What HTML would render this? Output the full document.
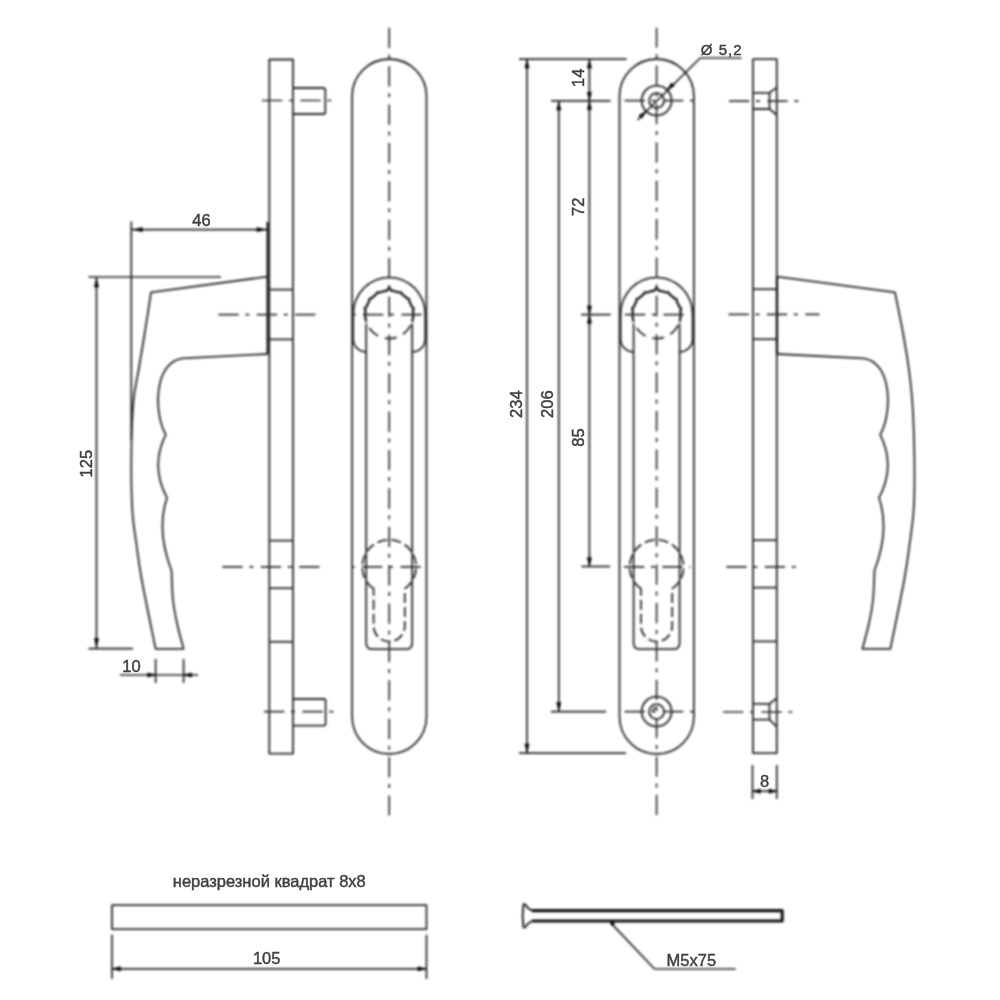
<!DOCTYPE html>
<html><head><meta charset="utf-8"><style>
html,body{margin:0;padding:0;background:#fff;}
svg{display:block;position:absolute;left:0;top:0;}
#L{filter:blur(0.8px);}
#T{filter:blur(0px);}
.o{fill:none;stroke:#282828;stroke-width:1.8;stroke-linejoin:round;}
.d{fill:none;stroke:#202020;stroke-width:1.7;}
.c{fill:none;stroke:#2e2e2e;stroke-width:1.7;stroke-dasharray:20.3 6.7 4 7.38;}
.hid{stroke-dasharray:12 7;}
.hid2{stroke-dasharray:10 4;}
.ar{fill:#000;stroke:#000;stroke-width:0.6px;stroke-linejoin:round;}
text{font-family:"Liberation Sans",sans-serif;fill:#404040;stroke:#404040;stroke-width:0.45px;}
</style></head><body>
<svg id="L" width="1000" height="1000" viewBox="0 0 1000 1000">
<rect x="269.3" y="59.5" width="23.69999999999999" height="694.1" class="o"/>
<line x1="269.3" y1="289.6" x2="293.0" y2="289.6" class="o" />
<line x1="269.3" y1="339.4" x2="293.0" y2="339.4" class="o" />
<line x1="269.3" y1="540.6" x2="293.0" y2="540.6" class="o" />
<line x1="269.3" y1="588.2" x2="293.0" y2="588.2" class="o" />
<line x1="269.3" y1="641.8" x2="293.0" y2="641.8" class="o" />
<path d="M293.0 88 H323.5 Q325.3 88 325.3 90 V112 Q325.3 114 323.5 114 H293.0" class="o"/>
<path d="M293.0 699 H323.8 Q325.6 699 325.6 701 V723.6 Q325.6 725.6 323.8 725.6 H293.0" class="o"/>
<path d="M267.6 276.6 L151 292.4  C149.93 299.50 146.67 321.10 144.60 334.00 C142.53 346.90 140.43 359.00 138.60 370.00 C136.77 381.00 134.80 386.67 133.60 400.00 C132.40 413.33 131.63 432.00 131.40 450.00 C131.17 468.00 131.37 492.33 132.20 508.00 C133.03 523.67 134.80 532.00 136.40 544.00 C138.00 556.00 138.60 562.53 141.80 580.00 C145.00 597.47 153.30 637.33 155.60 648.80 L183.6 648.8
     C182.53 644.67 178.97 632.13 177.20 624.00 C175.43 615.87 173.95 608.92 173.00 600.00 C172.05 591.08 171.75 575.42 171.50 570.50 Q156 530 167 497.8 Q150 466 165.8 434.6 C154 415 153 362 182.6 358.4 L267.6 354" class="o"/>
<line x1="267.6" y1="222" x2="267.6" y2="354" class="o" style="stroke-width:2.2px;stroke:#151515"/>
<line x1="262" y1="100.5" x2="334" y2="100.5" class="c" stroke-dashoffset="0.00"/>
<line x1="218.4" y1="314.6" x2="316" y2="314.6" class="c" stroke-dashoffset="0.00"/>
<line x1="222.4" y1="566.9" x2="320" y2="566.9" class="c" stroke-dashoffset="0.00"/>
<line x1="264" y1="711.6" x2="334" y2="711.6" class="c" stroke-dashoffset="0.00"/>
<line x1="131.3" y1="221.5" x2="131.3" y2="440" class="d" />
<line x1="131.3" y1="229.6" x2="267.6" y2="229.6" class="d" />
<path d="M134.20 229.60 L142.20 227.50 L142.20 231.70Z" class="ar"/>
<path d="M265.00 229.60 L257.00 231.70 L257.00 227.50Z" class="ar"/>
<line x1="88.4" y1="277" x2="221" y2="277" class="d" />
<line x1="88.4" y1="648.6" x2="133" y2="648.6" class="d" />
<line x1="96.5" y1="277" x2="96.5" y2="648.6" class="d" />
<path d="M96.50 279.00 L98.60 287.00 L94.40 287.00Z" class="ar"/>
<path d="M96.50 646.60 L94.40 638.60 L98.60 638.60Z" class="ar"/>
<line x1="155.6" y1="659" x2="155.6" y2="683" class="d" />
<line x1="183.6" y1="659" x2="183.6" y2="683" class="d" />
<line x1="120" y1="675" x2="198" y2="675" class="d" />
<path d="M155.60 675.00 L147.60 677.10 L147.60 672.90Z" class="ar"/>
<path d="M183.60 675.00 L191.60 672.90 L191.60 677.10Z" class="ar"/>
<path d="M352.09999999999997 96.20000000000002 A37.20000000000002 37.20000000000002 0 0 1 426.5 96.20000000000002 V716.8 A37.20000000000002 37.20000000000002 0 0 1 352.09999999999997 716.8 Z" class="o"/>
<path d="M366.2 352 A13 13 0 0 1 353.2 339 V314.6 A36.0 37.3 0 0 1 425.2 314.6 V339 A13 13 0 0 1 412.2 352" class="o"/>
<path d="M366.2 323.5 V643 Q366.2 649.2 372.4 649.2 H406.0 Q412.2 649.2 412.2 643 V323.5" class="o"/>
<path d="M412.03 322.02 L412.25 321.30 L412.45 320.57 L412.62 319.84 L412.77 319.10 L412.90 318.35 L413.01 317.61 L413.09 316.86 L413.15 316.11 L413.19 315.35 L413.20 314.60 L413.19 313.85 L413.15 313.09 L413.09 312.34 L413.01 311.59 L412.90 310.85 L413.23 310.02 L413.54 309.16 L413.60 308.33 L412.95 307.70 L412.27 307.10 L411.78 306.47 L411.51 305.77 L411.23 305.07 L410.92 304.38 L410.58 303.70 L410.23 303.04 L409.86 302.38 L409.46 301.74 L409.31 300.93 L409.25 300.03 L409.15 299.13 L408.37 298.74 L407.51 298.45 L406.70 298.17 L406.17 297.63 L405.63 297.10 L405.07 296.60 L404.50 296.11 L403.91 295.64 L403.31 295.18 L402.69 294.75 L402.14 294.20 L401.73 293.41 L401.29 292.61 L400.57 292.29 L399.66 292.37 L398.77 292.48 L398.03 292.29 L397.33 292.02 L396.62 291.77 L395.90 291.55 L395.17 291.35 L394.44 291.18 L393.70 291.03 L392.95 290.90 L392.21 290.79 L391.46 290.71 L390.76 289.75 L390.02 288.56 L389.20 287.40 L388.38 288.56 L387.64 289.75 L386.94 290.71 L386.19 290.79 L385.45 290.90 L384.70 291.03 L383.96 291.18 L383.23 291.35 L382.50 291.55 L381.78 291.77 L381.07 292.02 L380.37 292.29 L379.63 292.48 L378.74 292.37 L377.83 292.29 L377.11 292.61 L376.67 293.41 L376.26 294.20 L375.71 294.75 L375.09 295.18 L374.49 295.64 L373.90 296.11 L373.33 296.60 L372.77 297.10 L372.23 297.63 L371.70 298.17 L370.89 298.45 L370.03 298.74 L369.25 299.13 L369.15 300.03 L369.09 300.93 L368.94 301.74 L368.54 302.38 L368.17 303.04 L367.82 303.70 L367.48 304.38 L367.17 305.07 L366.89 305.77 L366.62 306.47 L366.13 307.10 L365.45 307.70 L364.80 308.33 L364.86 309.16 L365.17 310.02 L365.50 310.85 L365.39 311.59 L365.31 312.34 L365.25 313.09 L365.21 313.85 L365.20 314.60 L365.21 315.35 L365.25 316.11 L365.31 316.86 L365.39 317.61 L365.50 318.35 L365.63 319.10 L365.78 319.84 L365.95 320.57 L366.15 321.30 L366.37 322.02" class="o" style="stroke-width:2.3px;stroke:#1a1a1a"/>
<path d="M412.03 322.02 A24.0 24.0 0 0 1 366.37 322.02" class="o hid" stroke-dashoffset="15.5"/>
<path d="M373.59999999999997 588.84 A27 27 0 1 1 404.8 588.84 V626 A15.6 15.6 0 0 1 373.59999999999997 626 Z" class="o hid2"/>
<line x1="389.2" y1="27.8" x2="389.2" y2="815.4" class="c" stroke-dashoffset="0.00"/>
<line x1="352.59999999999997" y1="314.6" x2="423.0" y2="314.6" class="c" stroke-dashoffset="27.98"/>
<line x1="352.59999999999997" y1="566.8" x2="423.0" y2="566.8" class="c" stroke-dashoffset="28.98"/>
<path d="M619.5 96.19999999999999 A37.19999999999999 37.19999999999999 0 0 1 693.9 96.19999999999999 V716.8 A37.19999999999999 37.19999999999999 0 0 1 619.5 716.8 Z" class="o"/>
<path d="M633.6 352 A13 13 0 0 1 620.6 339 V314.6 A36.0 37.3 0 0 1 692.6 314.6 V339 A13 13 0 0 1 679.6 352" class="o"/>
<path d="M633.6 323.5 V643 Q633.6 649.2 639.8000000000001 649.2 H673.4 Q679.6 649.2 679.6 643 V323.5" class="o"/>
<path d="M679.43 322.02 L679.65 321.30 L679.85 320.57 L680.02 319.84 L680.17 319.10 L680.30 318.35 L680.41 317.61 L680.49 316.86 L680.55 316.11 L680.59 315.35 L680.60 314.60 L680.59 313.85 L680.55 313.09 L680.49 312.34 L680.41 311.59 L680.30 310.85 L680.63 310.02 L680.94 309.16 L681.00 308.33 L680.35 307.70 L679.67 307.10 L679.18 306.47 L678.91 305.77 L678.63 305.07 L678.32 304.38 L677.98 303.70 L677.63 303.04 L677.26 302.38 L676.86 301.74 L676.71 300.93 L676.65 300.03 L676.55 299.13 L675.77 298.74 L674.91 298.45 L674.10 298.17 L673.57 297.63 L673.03 297.10 L672.47 296.60 L671.90 296.11 L671.31 295.64 L670.71 295.18 L670.09 294.75 L669.54 294.20 L669.13 293.41 L668.69 292.61 L667.97 292.29 L667.06 292.37 L666.17 292.48 L665.43 292.29 L664.73 292.02 L664.02 291.77 L663.30 291.55 L662.57 291.35 L661.84 291.18 L661.10 291.03 L660.35 290.90 L659.61 290.79 L658.86 290.71 L658.16 289.75 L657.42 288.56 L656.60 287.40 L655.78 288.56 L655.04 289.75 L654.34 290.71 L653.59 290.79 L652.85 290.90 L652.10 291.03 L651.36 291.18 L650.63 291.35 L649.90 291.55 L649.18 291.77 L648.47 292.02 L647.77 292.29 L647.03 292.48 L646.14 292.37 L645.23 292.29 L644.51 292.61 L644.07 293.41 L643.66 294.20 L643.11 294.75 L642.49 295.18 L641.89 295.64 L641.30 296.11 L640.73 296.60 L640.17 297.10 L639.63 297.63 L639.10 298.17 L638.29 298.45 L637.43 298.74 L636.65 299.13 L636.55 300.03 L636.49 300.93 L636.34 301.74 L635.94 302.38 L635.57 303.04 L635.22 303.70 L634.88 304.38 L634.57 305.07 L634.29 305.77 L634.02 306.47 L633.53 307.10 L632.85 307.70 L632.20 308.33 L632.26 309.16 L632.57 310.02 L632.90 310.85 L632.79 311.59 L632.71 312.34 L632.65 313.09 L632.61 313.85 L632.60 314.60 L632.61 315.35 L632.65 316.11 L632.71 316.86 L632.79 317.61 L632.90 318.35 L633.03 319.10 L633.18 319.84 L633.35 320.57 L633.55 321.30 L633.77 322.02" class="o" style="stroke-width:2.3px;stroke:#1a1a1a"/>
<path d="M679.43 322.02 A24.0 24.0 0 0 1 633.77 322.02" class="o hid" stroke-dashoffset="15.5"/>
<path d="M641.0 588.84 A27 27 0 1 1 672.2 588.84 V626 A15.6 15.6 0 0 1 641.0 626 Z" class="o hid2"/>
<line x1="656.6" y1="27.8" x2="656.6" y2="815.4" class="c" stroke-dashoffset="0.60"/>
<line x1="620.0" y1="314.6" x2="690.4" y2="314.6" class="c" stroke-dashoffset="33.38"/>
<line x1="620.0" y1="566.8" x2="690.4" y2="566.8" class="c" stroke-dashoffset="34.38"/>
<circle cx="656.6" cy="100.6" r="15" class="o"/>
<circle cx="656.6" cy="100.6" r="7.5" class="o"/>
<line x1="624.5" y1="100.6" x2="693.9" y2="100.6" class="c" stroke-dashoffset="38.28"/>
<circle cx="656.6" cy="711.6" r="15" class="o"/>
<circle cx="656.6" cy="711.6" r="7.5" class="o"/>
<line x1="624.5" y1="711.6" x2="693.9" y2="711.6" class="c" stroke-dashoffset="38.28"/>
<path d="M652.6 711.6 A4.2 4.2 0 0 1 656.6 707.4" class="o" style="stroke-width:1.6px"/>
<line x1="637.6" y1="120" x2="700.2" y2="58" class="d" />
<line x1="700.2" y1="58" x2="741.6" y2="58" class="d" />
<path d="M645.99 111.21 L641.82 118.35 L638.85 115.38Z" class="ar"/>
<path d="M667.21 89.99 L671.38 82.85 L674.35 85.82Z" class="ar"/>
<line x1="519" y1="59.2" x2="626.7" y2="59.2" class="d" />
<line x1="519" y1="753.2" x2="626" y2="753.2" class="d" />
<line x1="527" y1="59.2" x2="527" y2="753.2" class="d" />
<path d="M527.00 60.00 L529.10 68.00 L524.90 68.00Z" class="ar"/>
<path d="M527.00 752.00 L524.90 744.00 L529.10 744.00Z" class="ar"/>
<line x1="551" y1="100.9" x2="610.6" y2="100.9" class="d" />
<line x1="551" y1="711.6" x2="606" y2="711.6" class="d" />
<line x1="558.8" y1="100.9" x2="558.8" y2="711.6" class="d" />
<path d="M558.80 102.00 L560.90 110.00 L556.70 110.00Z" class="ar"/>
<path d="M558.80 710.50 L556.70 702.50 L560.90 702.50Z" class="ar"/>
<line x1="589.4" y1="59.2" x2="589.4" y2="566.5" class="d" />
<line x1="581" y1="314.6" x2="610.7" y2="314.6" class="d" />
<line x1="581.4" y1="566.5" x2="610.2" y2="566.5" class="d" />
<path d="M589.40 60.00 L591.50 68.00 L587.30 68.00Z" class="ar"/>
<path d="M589.40 100.20 L587.30 92.20 L591.50 92.20Z" class="ar"/>
<path d="M589.40 101.60 L591.50 109.60 L587.30 109.60Z" class="ar"/>
<path d="M589.40 314.00 L587.30 306.00 L591.50 306.00Z" class="ar"/>
<path d="M589.40 315.20 L591.50 323.20 L587.30 323.20Z" class="ar"/>
<path d="M589.40 565.80 L587.30 557.80 L591.50 557.80Z" class="ar"/>
<rect x="753.0" y="59.2" width="23.799999999999955" height="694.0" class="o"/>
<line x1="753.0" y1="289.2" x2="776.8" y2="289.2" class="o" />
<line x1="753.0" y1="339.2" x2="776.8" y2="339.2" class="o" />
<line x1="753.0" y1="540.2" x2="776.8" y2="540.2" class="o" />
<line x1="753.0" y1="587.6" x2="776.8" y2="587.6" class="o" />
<line x1="753.0" y1="641.4" x2="776.8" y2="641.4" class="o" />
<path d="M753.0 92.8 H769.5 V109.0 H753.0 M769.5 92.8 L776.8 87.4 M769.5 109.0 L776.8 115.0" class="o"/>
<path d="M753.0 703.8 H769.5 V719.6 H753.0 M769.5 703.8 L776.8 698.2 M769.5 719.6 L776.8 726.8" class="o"/>
<path d="M269.0 276.6 L151 292.4  C149.63 299.50 145.13 321.10 142.80 334.00 C140.47 346.90 138.57 358.00 137.00 370.00 C135.43 382.00 134.30 391.00 133.40 406.00 C132.50 421.00 131.80 443.00 131.60 460.00 C131.40 477.00 131.40 494.00 132.20 508.00 C133.00 522.00 134.80 532.00 136.40 544.00 C138.00 556.00 138.60 562.53 141.80 580.00 C145.00 597.47 153.30 637.33 155.60 648.80 L183.6 648.8
     C182.53 644.67 178.97 632.13 177.20 624.00 C175.43 615.87 173.95 608.92 173.00 600.00 C172.05 591.08 171.75 575.42 171.50 570.50 Q156 530 167 497.8 Q150 466 165.8 434.6 C154 415 153 362 182.6 358.4 L269.0 354" class="o" transform="translate(1046 0) scale(-1 1)"/>
<line x1="777.0" y1="277" x2="777.0" y2="353.6" class="o" style="stroke-width:2.3px;stroke:#111"/>
<line x1="729" y1="101.2" x2="800" y2="101.2" class="c" stroke-dashoffset="0.00"/>
<line x1="728.5" y1="314.4" x2="819.5" y2="314.4" class="c" stroke-dashoffset="0.00"/>
<line x1="726.4" y1="566.8" x2="797.5" y2="566.8" class="c" stroke-dashoffset="0.00"/>
<line x1="723" y1="712" x2="793" y2="712" class="c" stroke-dashoffset="0.00"/>
<line x1="752.5" y1="765" x2="752.5" y2="799" class="d" />
<line x1="776.8" y1="765" x2="776.8" y2="799" class="d" />
<line x1="752.5" y1="791.2" x2="776.8" y2="791.2" class="d" />
<path d="M752.80 791.20 L760.30 789.10 L760.30 793.30Z" class="ar"/>
<path d="M776.50 791.20 L769.00 793.30 L769.00 789.10Z" class="ar"/>
<rect x="112" y="905.2" width="314.5" height="23.9" class="o"/>
<line x1="112" y1="934.8" x2="112" y2="979" class="d" />
<line x1="426.5" y1="934.8" x2="426.5" y2="979" class="d" />
<line x1="112" y1="968.8" x2="426.5" y2="968.8" class="d" />
<path d="M112.50 968.80 L120.50 966.70 L120.50 970.90Z" class="ar"/>
<path d="M426.00 968.80 L418.00 970.90 L418.00 966.70Z" class="ar"/>
<path d="M532 910.6 Q527.5 908.5 525.8 905.2 Q524.6 903.2 523.4 904.6 Q521.9 915.8 523.4 927 Q524.6 928.4 525.8 926.4 Q527.5 923.2 532 921" class="o" style="stroke-width:1.9px;stroke:#1a1a1a"/>
<path d="M532 910.6 H782.2 V921 H532" class="o" style="stroke-width:3.1px;stroke:#111"/>
<line x1="611.9" y1="924.2" x2="654.6" y2="969" class="d" />
<circle cx="612.4" cy="923.6" r="1.8" class="ar"/>
<line x1="654.6" y1="969" x2="735.8" y2="969" class="d" />
</svg>
<svg id="T" width="1000" height="1000" viewBox="0 0 1000 1000">
<text x="201.5" y="225.5" text-anchor="middle" font-size="16.5" letter-spacing="0">46</text>
<text x="0" y="0" transform="translate(91.5 463.7) rotate(-90)" text-anchor="middle" font-size="16.5">125</text>
<text x="131.5" y="672" text-anchor="middle" font-size="16.5" letter-spacing="0">10</text>
<text x="700.8" y="55.3" text-anchor="start" font-size="15" letter-spacing="1">Ø 5,2</text>
<text x="0" y="0" transform="translate(521.5 404.2) rotate(-90)" text-anchor="middle" font-size="16.5">234</text>
<text x="0" y="0" transform="translate(553 404.2) rotate(-90)" text-anchor="middle" font-size="16.5">206</text>
<text x="0" y="0" transform="translate(583.7 77.8) rotate(-90)" text-anchor="middle" font-size="16.5">14</text>
<text x="0" y="0" transform="translate(583.9 206.8) rotate(-90)" text-anchor="middle" font-size="16.5">72</text>
<text x="0" y="0" transform="translate(583.6 437.5) rotate(-90)" text-anchor="middle" font-size="16.5">85</text>
<text x="764.6" y="786.8" text-anchor="middle" font-size="16.5" letter-spacing="0">8</text>
<text x="266.7" y="964.2" text-anchor="middle" font-size="16.5" letter-spacing="0">105</text>
<text x="269.3" y="886.6" text-anchor="middle" font-size="16.5" letter-spacing="0">неразрезной квадрат 8x8</text>
<text x="691.3" y="965.6" text-anchor="middle" font-size="16.5" letter-spacing="0">M5x75</text>
</svg>
</body></html>
